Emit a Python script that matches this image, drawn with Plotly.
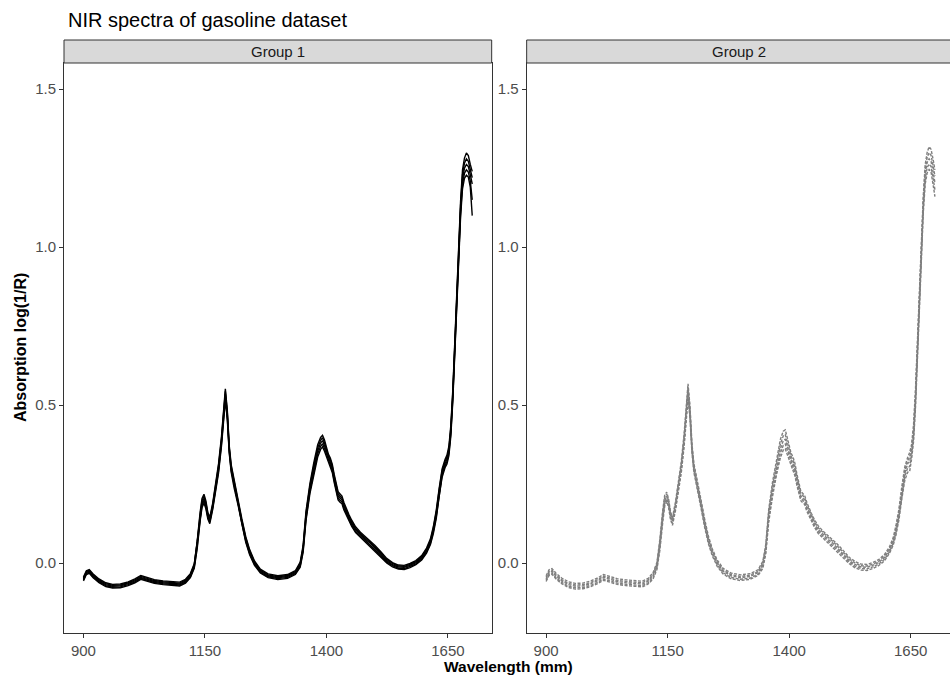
import plotly.graph_objects as go

# Wavelength grid (nm)
WL = [900, 906, 912, 920, 932, 946, 960, 976, 992, 1006,
      1018, 1030, 1046, 1064, 1082, 1098, 1110, 1120, 1128, 1134,
      1140, 1144, 1148, 1152, 1156, 1160, 1166, 1172, 1178, 1184,
      1188, 1192, 1196, 1200, 1204, 1210, 1218, 1226, 1234, 1242,
      1252, 1264, 1280, 1300, 1320, 1336, 1346, 1352, 1358, 1366,
      1374, 1382, 1388, 1392, 1396, 1400, 1404, 1408, 1412, 1416,
      1420, 1424, 1428, 1432, 1436, 1440, 1446, 1452, 1460, 1470,
      1480, 1490, 1500, 1512, 1524, 1536, 1548, 1560, 1572, 1584,
      1596, 1606, 1614, 1620, 1626, 1632, 1638, 1644, 1648, 1652,
      1656, 1660, 1664, 1668, 1672, 1676, 1680, 1684, 1688, 1692,
      1696, 1700]

# Group 1 spectra
G1_MID = [-0.050, -0.030, -0.026, -0.040, -0.056, -0.068, -0.073, -0.072, -0.065, -0.056,
          -0.045, -0.050, -0.058, -0.062, -0.065, -0.066, -0.057, -0.040, -0.008, 0.060,
          0.145, 0.190, 0.205, 0.185, 0.150, 0.135, 0.180, 0.240, 0.300, 0.385,
          0.460, 0.535, 0.470, 0.360, 0.300, 0.250, 0.195, 0.130, 0.075, 0.035,
          0.000, -0.025, -0.040, -0.046, -0.042, -0.030, -0.005, 0.045, 0.150, 0.235,
          0.300, 0.355, 0.380, 0.388, 0.372, 0.352, 0.332, 0.320, 0.300, 0.268,
          0.235, 0.213, 0.206, 0.200, 0.180, 0.165, 0.145, 0.126, 0.106, 0.090,
          0.076, 0.063, 0.048, 0.028, 0.008, -0.005, -0.012, -0.013, -0.007, 0.002,
          0.017, 0.040, 0.068, 0.105, 0.155, 0.225, 0.285, 0.315, 0.328, 0.355,
          0.420, 0.530, 0.690, 0.840, 0.990, 1.120, 1.215, 1.250, 1.262, 1.255,
          1.230, 1.200]
G1_HI = [-0.044, -0.024, -0.020, -0.034, -0.050, -0.062, -0.067, -0.066, -0.059, -0.050,
         -0.039, -0.044, -0.052, -0.056, -0.059, -0.060, -0.051, -0.033, -0.002, 0.068,
         0.160, 0.205, 0.218, 0.197, 0.160, 0.145, 0.190, 0.252, 0.315, 0.400,
         0.478, 0.552, 0.485, 0.372, 0.312, 0.262, 0.205, 0.140, 0.084, 0.043,
         0.007, -0.019, -0.034, -0.040, -0.036, -0.024, 0.003, 0.056, 0.165, 0.252,
         0.318, 0.375, 0.398, 0.405, 0.390, 0.368, 0.345, 0.333, 0.313, 0.281,
         0.248, 0.226, 0.219, 0.212, 0.192, 0.176, 0.155, 0.136, 0.115, 0.098,
         0.084, 0.071, 0.056, 0.036, 0.015, 0.002, -0.006, -0.007, -0.001, 0.008,
         0.024, 0.048, 0.077, 0.116, 0.168, 0.238, 0.298, 0.328, 0.342, 0.370,
         0.437, 0.548, 0.708, 0.860, 1.010, 1.145, 1.245, 1.282, 1.298, 1.290,
         1.262, 1.240]
G1_LO = [-0.056, -0.036, -0.032, -0.046, -0.062, -0.074, -0.079, -0.078, -0.071, -0.062,
         -0.051, -0.056, -0.064, -0.068, -0.071, -0.072, -0.063, -0.046, -0.016, 0.045,
         0.132, 0.176, 0.190, 0.172, 0.140, 0.125, 0.170, 0.228, 0.286, 0.370,
         0.445, 0.515, 0.455, 0.348, 0.288, 0.238, 0.185, 0.120, 0.066, 0.027,
         -0.007, -0.031, -0.046, -0.052, -0.048, -0.036, -0.013, 0.034, 0.135, 0.220,
         0.283, 0.336, 0.360, 0.368, 0.354, 0.336, 0.318, 0.307, 0.287, 0.255,
         0.222, 0.200, 0.193, 0.188, 0.168, 0.154, 0.135, 0.116, 0.097, 0.082,
         0.068, 0.055, 0.040, 0.020, 0.001, -0.012, -0.019, -0.020, -0.014, -0.005,
         0.010, 0.032, 0.059, 0.094, 0.142, 0.212, 0.272, 0.302, 0.314, 0.340,
         0.403, 0.512, 0.672, 0.820, 0.970, 1.095, 1.185, 1.218, 1.228, 1.222,
         1.190, 1.100]
G1_A = [-0.053, -0.033, -0.029, -0.043, -0.059, -0.071, -0.076, -0.075, -0.068, -0.059,
        -0.048, -0.053, -0.061, -0.065, -0.068, -0.069, -0.060, -0.043, -0.012, 0.052,
        0.138, 0.183, 0.198, 0.178, 0.145, 0.130, 0.175, 0.234, 0.293, 0.378,
        0.452, 0.525, 0.462, 0.354, 0.294, 0.244, 0.190, 0.125, 0.070, 0.031,
        -0.004, -0.028, -0.043, -0.049, -0.045, -0.033, -0.009, 0.040, 0.142, 0.228,
        0.292, 0.346, 0.370, 0.378, 0.363, 0.344, 0.325, 0.313, 0.293, 0.261,
        0.228, 0.206, 0.199, 0.194, 0.174, 0.160, 0.140, 0.121, 0.101, 0.086,
        0.072, 0.059, 0.044, 0.024, 0.004, -0.008, -0.016, -0.017, -0.010, -0.002,
        0.013, 0.036, 0.063, 0.100, 0.148, 0.218, 0.278, 0.308, 0.321, 0.348,
        0.412, 0.521, 0.681, 0.830, 0.980, 1.108, 1.200, 1.234, 1.245, 1.238,
        1.210, 1.150]
G1_B = [-0.047, -0.027, -0.023, -0.037, -0.053, -0.065, -0.070, -0.069, -0.062, -0.053,
        -0.042, -0.047, -0.055, -0.059, -0.062, -0.063, -0.054, -0.036, -0.005, 0.064,
        0.152, 0.198, 0.212, 0.191, 0.155, 0.140, 0.185, 0.246, 0.308, 0.392,
        0.469, 0.544, 0.478, 0.366, 0.306, 0.256, 0.200, 0.135, 0.080, 0.039,
        0.004, -0.022, -0.037, -0.043, -0.039, -0.027, -0.001, 0.050, 0.158, 0.244,
        0.309, 0.365, 0.389, 0.397, 0.381, 0.360, 0.339, 0.327, 0.307, 0.275,
        0.242, 0.220, 0.212, 0.206, 0.186, 0.170, 0.150, 0.131, 0.110, 0.094,
        0.080, 0.067, 0.052, 0.032, 0.012, -0.001, -0.009, -0.010, -0.004, 0.005,
        0.020, 0.044, 0.072, 0.110, 0.162, 0.232, 0.292, 0.322, 0.335, 0.362,
        0.428, 0.539, 0.699, 0.850, 1.000, 1.132, 1.230, 1.266, 1.280, 1.272,
        1.246, 1.220]

# Group 2 spectra
G2_MID = [-0.050, -0.030, -0.026, -0.040, -0.056, -0.068, -0.073, -0.072, -0.065, -0.056,
          -0.045, -0.050, -0.058, -0.062, -0.065, -0.066, -0.057, -0.040, -0.008, 0.060,
          0.150, 0.198, 0.212, 0.190, 0.150, 0.132, 0.178, 0.240, 0.302, 0.390,
          0.468, 0.545, 0.478, 0.365, 0.302, 0.250, 0.193, 0.128, 0.073, 0.034,
          0.000, -0.025, -0.040, -0.046, -0.042, -0.030, -0.005, 0.045, 0.150, 0.235,
          0.305, 0.362, 0.388, 0.392, 0.372, 0.350, 0.328, 0.316, 0.296, 0.264,
          0.235, 0.213, 0.206, 0.200, 0.180, 0.165, 0.145, 0.126, 0.106, 0.090,
          0.076, 0.063, 0.048, 0.028, 0.008, -0.005, -0.012, -0.013, -0.007, 0.002,
          0.017, 0.040, 0.068, 0.105, 0.155, 0.225, 0.285, 0.315, 0.322, 0.355,
          0.410, 0.520, 0.680, 0.840, 1.000, 1.135, 1.232, 1.268, 1.280, 1.272,
          1.240, 1.205]
G2_HI = [-0.040, -0.021, -0.017, -0.031, -0.047, -0.059, -0.064, -0.063, -0.056, -0.047,
         -0.036, -0.041, -0.049, -0.053, -0.056, -0.057, -0.048, -0.030, 0.002, 0.075,
         0.168, 0.215, 0.225, 0.203, 0.163, 0.145, 0.192, 0.256, 0.320, 0.410,
         0.490, 0.568, 0.498, 0.380, 0.316, 0.264, 0.206, 0.141, 0.085, 0.045,
         0.010, -0.016, -0.031, -0.037, -0.033, -0.021, 0.006, 0.060, 0.170, 0.258,
         0.330, 0.392, 0.418, 0.422, 0.398, 0.372, 0.348, 0.336, 0.316, 0.282,
         0.250, 0.228, 0.221, 0.214, 0.194, 0.178, 0.157, 0.138, 0.118, 0.101,
         0.087, 0.074, 0.059, 0.039, 0.018, 0.005, -0.003, -0.004, 0.002, 0.011,
         0.027, 0.050, 0.080, 0.120, 0.172, 0.244, 0.305, 0.335, 0.350, 0.376,
         0.438, 0.550, 0.712, 0.868, 1.025, 1.162, 1.262, 1.300, 1.318, 1.310,
         1.280, 1.245]
G2_LO = [-0.058, -0.039, -0.035, -0.049, -0.065, -0.077, -0.082, -0.081, -0.074, -0.065,
         -0.054, -0.059, -0.067, -0.071, -0.074, -0.075, -0.066, -0.050, -0.020, 0.040,
         0.130, 0.180, 0.196, 0.176, 0.138, 0.120, 0.165, 0.225, 0.285, 0.370,
         0.446, 0.520, 0.458, 0.350, 0.288, 0.236, 0.180, 0.115, 0.061, 0.023,
         -0.010, -0.034, -0.049, -0.055, -0.051, -0.039, -0.016, 0.030, 0.130, 0.212,
         0.280, 0.334, 0.358, 0.362, 0.346, 0.328, 0.308, 0.296, 0.276, 0.246,
         0.218, 0.198, 0.191, 0.186, 0.166, 0.152, 0.133, 0.114, 0.094, 0.079,
         0.065, 0.052, 0.037, 0.017, -0.002, -0.015, -0.022, -0.023, -0.017, -0.008,
         0.007, 0.030, 0.056, 0.090, 0.138, 0.205, 0.262, 0.288, 0.290, 0.330,
         0.385, 0.492, 0.648, 0.812, 0.975, 1.108, 1.200, 1.235, 1.246, 1.238,
         1.200, 1.160]
G2_A = [-0.054, -0.035, -0.031, -0.045, -0.061, -0.073, -0.078, -0.077, -0.070, -0.061,
        -0.050, -0.055, -0.063, -0.067, -0.070, -0.071, -0.062, -0.045, -0.014, 0.050,
        0.140, 0.189, 0.204, 0.183, 0.144, 0.126, 0.172, 0.233, 0.294, 0.380,
        0.457, 0.532, 0.468, 0.358, 0.295, 0.243, 0.187, 0.122, 0.067, 0.029,
        -0.005, -0.030, -0.045, -0.051, -0.047, -0.035, -0.011, 0.038, 0.140, 0.224,
        0.292, 0.348, 0.373, 0.377, 0.359, 0.339, 0.318, 0.306, 0.286, 0.255,
        0.227, 0.206, 0.199, 0.193, 0.173, 0.159, 0.139, 0.120, 0.100, 0.085,
        0.071, 0.058, 0.043, 0.023, 0.003, -0.010, -0.017, -0.018, -0.012, -0.003,
        0.012, 0.035, 0.062, 0.098, 0.147, 0.215, 0.274, 0.302, 0.306, 0.342,
        0.398, 0.506, 0.664, 0.826, 0.988, 1.122, 1.216, 1.252, 1.263, 1.255,
        1.220, 1.182]
G2_B = [-0.045, -0.026, -0.022, -0.036, -0.052, -0.064, -0.069, -0.068, -0.061, -0.052,
        -0.041, -0.046, -0.054, -0.058, -0.061, -0.062, -0.053, -0.035, -0.003, 0.068,
        0.159, 0.207, 0.219, 0.197, 0.157, 0.139, 0.185, 0.248, 0.311, 0.400,
        0.479, 0.557, 0.488, 0.372, 0.309, 0.257, 0.200, 0.135, 0.079, 0.040,
        0.005, -0.021, -0.036, -0.042, -0.038, -0.026, 0.001, 0.052, 0.160, 0.246,
        0.318, 0.377, 0.403, 0.407, 0.385, 0.361, 0.338, 0.326, 0.306, 0.273,
        0.243, 0.221, 0.214, 0.207, 0.187, 0.172, 0.151, 0.132, 0.112, 0.096,
        0.082, 0.069, 0.054, 0.034, 0.013, 0.000, -0.008, -0.009, -0.003, 0.006,
        0.022, 0.045, 0.074, 0.112, 0.164, 0.234, 0.295, 0.325, 0.336, 0.366,
        0.424, 0.535, 0.696, 0.854, 1.012, 1.148, 1.247, 1.284, 1.299, 1.291,
        1.260, 1.225]

GROUP1 = [G1_LO, G1_A, G1_MID, G1_B, G1_HI]
GROUP2 = [G2_LO, G2_A, G2_MID, G2_B, G2_HI]
for s in GROUP1 + GROUP2:
    assert len(s) == len(WL)

GROUP_LABELS = ["Group 1", "Group 2"]
X_TICKS = [900, 1150, 1400, 1650]
Y_TICKS = [0.0, 0.5, 1.0, 1.5]
Y_TICKTEXT = ["0.0", "0.5", "1.0", "1.5"]

FONT = "Liberation Sans, Arial, sans-serif"

fig = go.Figure()
for s in GROUP1:
    fig.add_trace(go.Scatter(x=WL, y=s, mode="lines", xaxis="x", yaxis="y",
                             line=dict(color="black", width=1.4),
                             showlegend=False, hoverinfo="skip"))
for s in GROUP2:
    fig.add_trace(go.Scatter(x=WL, y=s, mode="lines", xaxis="x2", yaxis="y2",
                             line=dict(color="#7f7f7f", width=1.4, dash="3px,1.5px"),
                             showlegend=False, hoverinfo="skip"))

PH = 570.0   # plot height px
PW = 886.0   # plot width px
D1 = [0.0, 0.4827]
D2 = [0.5222, 1.0]
YR = [-0.221, 1.583]

axis_common = dict(showgrid=False, zeroline=False, ticks="outside", ticklen=4,
                   tickcolor="#333333", tickwidth=1, showline=True,
                   linecolor="#333333", linewidth=1,
                   tickfont=dict(family=FONT, size=15, color="#4d4d4d"))

fig.update_layout(
    width=950, height=675,
    margin=dict(l=64, r=0, t=63, b=42),
    paper_bgcolor="white", plot_bgcolor="white",
    font=dict(family=FONT),
    xaxis=dict(domain=D1, range=[860, 1740], tickvals=X_TICKS, anchor="y",
               mirror=True, **axis_common),
    yaxis=dict(domain=[0, 1], range=YR, tickvals=Y_TICKS, ticktext=Y_TICKTEXT,
               anchor="x", mirror=True, **axis_common),
    xaxis2=dict(domain=D2, range=[860, 1731], tickvals=X_TICKS, anchor="y2",
                mirror=True, **axis_common),
    yaxis2=dict(domain=[0, 1], range=YR, tickvals=Y_TICKS, ticktext=Y_TICKTEXT,
                anchor="x2", mirror=False, **axis_common),
)

strip_h = 23 / PH
shapes = []
for d in (D1, [D2[0], 1.02]):
    shapes.append(dict(type="rect", xref="paper", yref="paper", x0=d[0], x1=d[1],
                       y0=1, y1=1 + strip_h, fillcolor="#d9d9d9",
                       line=dict(color="#333333", width=1), layer="above"))
fig.update_layout(shapes=shapes)

annotations = [
    dict(text=GROUP_LABELS[0], x=(D1[0] + D1[1]) / 2, y=1 + strip_h / 2,
         xref="paper", yref="paper", showarrow=False, xanchor="center", yanchor="middle",
         font=dict(family=FONT, size=15, color="#1a1a1a")),
    dict(text=GROUP_LABELS[1], x=(739 - 64) / PW, y=1 + strip_h / 2,
         xref="paper", yref="paper", showarrow=False, xanchor="center", yanchor="middle",
         font=dict(family=FONT, size=15, color="#1a1a1a")),
    dict(text="NIR spectra of gasoline dataset", x=2 / PW, y=1 + (63 - 20) / PH,
         xref="paper", yref="paper", showarrow=False, xanchor="left", yanchor="middle",
         font=dict(family=FONT, size=20, color="black")),
    dict(text="<b>Absorption log(1/R)</b>", x=(20 - 64) / PW, y=0.5,
         xref="paper", yref="paper", showarrow=False, xanchor="center", yanchor="middle",
         textangle=-90, font=dict(family=FONT, size=16, color="black")),
    dict(text="<b>Wavelength (mm)</b>", x=(509 - 64) / PW, y=-(666 - 633) / PH,
         xref="paper", yref="paper", showarrow=False, xanchor="center", yanchor="middle",
         font=dict(family=FONT, size=15.5, color="black")),
]
fig.update_layout(annotations=annotations)

fig.write_html("out.html", config={"displayModeBar": False},
               post_script="document.body.style.margin='0';document.body.style.overflow='hidden';")
